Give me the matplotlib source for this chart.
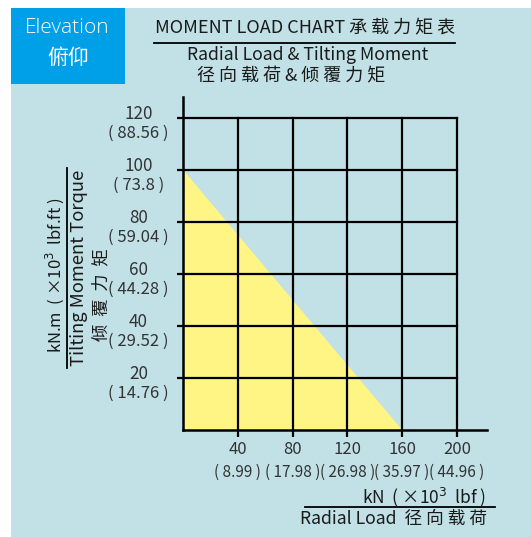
import matplotlib.pyplot as plt
from matplotlib.patches import Rectangle
from matplotlib.lines import Line2D

plt.rcParams['font.family'] = ['Noto Sans CJK SC', 'DejaVu Sans']

# chart data
load_ticks = [40, 80, 120, 160, 200]            # kN
load_lbf = ['8.99', '17.98', '26.98', '35.97', '44.96']
moment_ticks = [20, 40, 60, 80, 100, 120]       # kN.m
moment_lbf = ['14.76', '29.52', '44.28', '59.04', '73.8', '88.56']
curve_load = [0, 160]
curve_moment = [100, 0]

W, H = 531, 537
PANEL = '#c1e1e6'
BLUE = '#00a0e9'
YELLOW = '#fff584'
TXT = '#333333'
DARK = '#1a1a1a'


def fx(px):
    return px / W


def fy(py):
    return 1 - py / H


fig = plt.figure(figsize=(W / 100, H / 100), dpi=100)
fig.patch.set_facecolor('white')
fig.patches.append(Rectangle((fx(11), 0), 1 - fx(11), fy(8), transform=fig.transFigure,
                             facecolor=PANEL, edgecolor='none', zorder=-2))
fig.patches.append(Rectangle((fx(11), fy(84)), fx(125) - fx(11), fy(8) - fy(84),
                             transform=fig.transFigure, facecolor=BLUE, edgecolor='none', zorder=-1))

ax = fig.add_axes([fx(183), 1 - 430 / H, (487 - 183) / W, (430 - 97) / H])
ax.set_zorder(2)
ax.set_facecolor('none')
ax.set_xlim(0, 222)
ax.set_ylim(0, 128)

# allowable region
ax.fill_between(curve_load, curve_moment, 0, color=YELLOW, lw=0, zorder=1)

# grid box
for x in load_ticks:
    ax.plot([x, x], [0, moment_ticks[-1]], color='black', lw=1.6, zorder=2)
for y in moment_ticks:
    ax.plot([0, load_ticks[-1]], [y, y], color='black', lw=1.6, zorder=2)

for s in ['top', 'right']:
    ax.spines[s].set_visible(False)
for s in ['left', 'bottom']:
    ax.spines[s].set_linewidth(1.8)
    ax.spines[s].set_zorder(3)

ax.set_xticks(load_ticks)
ax.set_yticks(moment_ticks)
ax.tick_params(axis='x', length=5, width=1.6, labelbottom=False)
ax.tick_params(axis='y', length=4, width=1.6, labelleft=False)

# tick labels: metric value with imperial value underneath
for t, v in zip(load_ticks, load_lbf):
    ax.annotate(str(t), xy=(t, 0), xycoords=ax.get_xaxis_transform(), xytext=(0, -13.7),
                textcoords='offset points', ha='center', va='center', fontsize=12, color=TXT)
    ax.annotate(f'( {v} )', xy=(t, 0), xycoords=ax.get_xaxis_transform(), xytext=(0, -30.6),
                textcoords='offset points', ha='center', va='center', fontsize=11, color=TXT)
for t, v in zip(moment_ticks, moment_lbf):
    ax.annotate(str(t), xy=(0, t), xycoords=ax.get_yaxis_transform(), xytext=(-32, 2.6),
                textcoords='offset points', ha='center', va='center', fontsize=12.3, color=TXT)
    ax.annotate(f'( {v} )', xy=(0, t), xycoords=ax.get_yaxis_transform(), xytext=(-32, -11.2),
                textcoords='offset points', ha='center', va='center', fontsize=12, color=TXT)

# header
fig.text(fx(67), fy(28), 'Elevation', color='white', fontsize=15, ha='center', va='center',
         family=['Open Sans', 'DejaVu Sans'], fontweight='light')
fig.text(fx(68), fy(58), '俯仰', color='white', fontsize=15, ha='center', va='center')

fig.text(fx(305), fy(28), 'MOMENT LOAD CHART 承 载 力 矩 表', color=DARK, fontsize=13,
         ha='center', va='center')
fig.lines.append(Line2D([fx(154), fx(455)], [fy(43), fy(43)], transform=fig.transFigure,
                        color='black', lw=1.3))
fig.text(fx(308), fy(55), 'Radial Load & Tilting Moment', color=DARK, fontsize=12.7,
         ha='center', va='center')
fig.text(fx(291), fy(76), '径 向 载 荷 & 倾 覆 力 矩', color=DARK, fontsize=13,
         ha='center', va='center')

# y-axis title
fig.text(fx(55), fy(275), 'kN.m  ( ×10$^{3}$  lbf.ft )', rotation=90, color=DARK,
         fontsize=12, ha='center', va='center')
fig.lines.append(Line2D([fx(67), fx(67)], [fy(168), fy(368)], transform=fig.transFigure,
                        color='black', lw=1.3))
fig.text(fx(79), fy(268), 'Tilting Moment Torque', rotation=90, color=DARK,
         fontsize=13.2, ha='center', va='center')
fig.text(fx(101), fy(295), '倾  覆  力  矩', rotation=90, color=DARK,
         fontsize=12.5, ha='center', va='center')

# x-axis title
fig.text(fx(486), fy(497), 'kN  ( ×10$^{3}$  lbf )', color=DARK, fontsize=12.5,
         ha='right', va='center')
fig.lines.append(Line2D([fx(305), fx(495)], [fy(507), fy(507)], transform=fig.transFigure,
                        color='black', lw=1.3))
fig.text(fx(393), fy(519), 'Radial Load  径 向 载 荷', color=DARK, fontsize=12.7,
         ha='center', va='center')

fig.savefig('out.png', dpi=100, facecolor=fig.get_facecolor())
